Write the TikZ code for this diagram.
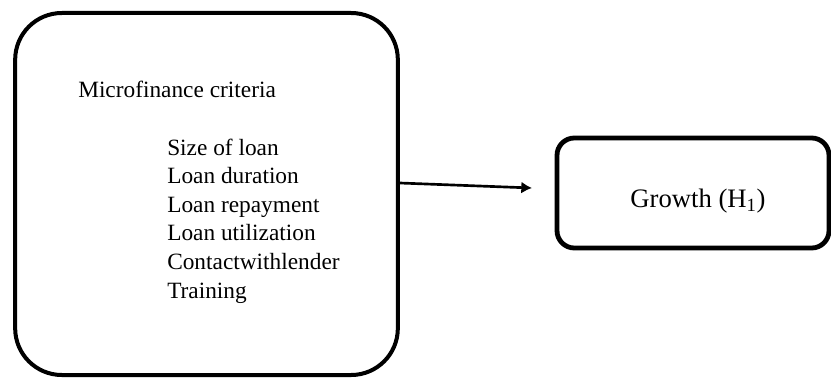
\documentclass[tikz,border=0pt]{standalone}
\usepackage{fontspec}
\setmainfont{Liberation Serif}
\usetikzlibrary{arrows.meta}
\begin{document}
\begin{tikzpicture}[x=0.75pt,y=-0.75pt,
	criteriabox/.style={draw, line width=3pt, rounded corners=35pt, minimum width=287pt, minimum height=271.5pt, inner sep=0pt},
	outcomebox/.style={draw, line width=3.6pt, rounded corners=13pt, minimum width=204pt, minimum height=82.5pt, inner sep=0pt},
	itemtext/.style={anchor=base west, inner sep=0pt, font=\fontsize{17.5}{21}\selectfont},
	link/.style={-{Latex[length=8pt,width=9pt]}, line width=2pt}]
	\useasboundingbox (0,0) rectangle (831,378);
	%Boxes
	\node[criteriabox] (criteria) at (206.5,194) {};
	\node[outcomebox] (growth) at (693,193) {};
	%Texts
	\node[itemtext] (title) at (78,98) {Microfinance criteria};
	\foreach \txt [count=\i from 0] in {Size of loan, Loan duration, Loan repayment, Loan utilization, Contactwithlender, Training}
		\node[itemtext] (item\i) at (167,155+28.6*\i) {\txt};
	\node[anchor=base, inner sep=0pt, font=\fontsize{20}{24}\selectfont] (growthtxt) at (698,207) {Growth (H\textsubscript{1})};
	%Arrow
	\coordinate (tip) at (532,188);
	\draw[link] ([yshift=8.25pt]criteria.east) -- (tip);
\end{tikzpicture}
\end{document}
